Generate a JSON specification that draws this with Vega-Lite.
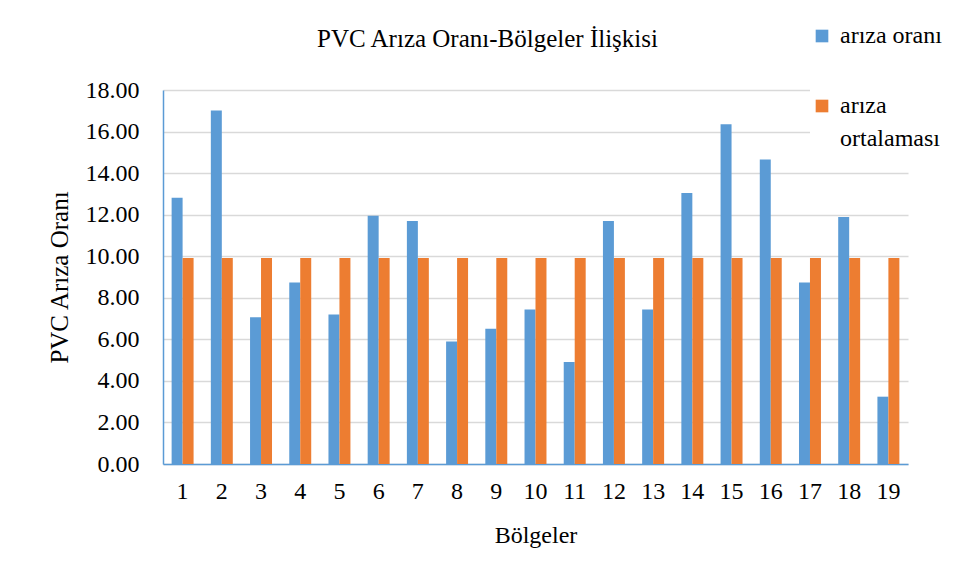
{
  "$schema": "https://vega.github.io/schema/vega-lite/v6.json",
  "width": 745,
  "height": 374,
  "autosize": {"type": "none"},
  "padding": {"left": 163, "top": 90, "right": 58, "bottom": 117},
  "background": "white",
  "config": {
    "font": "Liberation Serif",
    "view": {"stroke": null},
    "style": {"guide-label": {"lineHeight": 33}},
    "legend": {"labelFont": "serif"},
    "axis": {"labelFont": "Liberation Serif", "titleFont": "Liberation Serif", "labelColor": "#000", "titleColor": "#000", "titleFontWeight": "normal", "ticks": false, "domainColor": "#5B9BD5", "domainWidth": 1.5, "gridColor": "#D9D9D9", "gridWidth": 1.5}
  },
  "title": {"text": "PVC Arıza Oranı-Bölgeler İlişkisi", "font": "Liberation Serif", "fontSize": 25, "fontWeight": "normal", "color": "#000", "anchor": "middle", "frame": "group", "dx": -48, "offset": 36, "dy": 64},
  "data": {"values": [
    {"bolge": 1, "seri": "arıza oranı", "deger": 12.82},
    {"bolge": 2, "seri": "arıza oranı", "deger": 17.01},
    {"bolge": 3, "seri": "arıza oranı", "deger": 7.06},
    {"bolge": 4, "seri": "arıza oranı", "deger": 8.74},
    {"bolge": 5, "seri": "arıza oranı", "deger": 7.19},
    {"bolge": 6, "seri": "arıza oranı", "deger": 11.95},
    {"bolge": 7, "seri": "arıza oranı", "deger": 11.70},
    {"bolge": 8, "seri": "arıza oranı", "deger": 5.89},
    {"bolge": 9, "seri": "arıza oranı", "deger": 6.51},
    {"bolge": 10, "seri": "arıza oranı", "deger": 7.43},
    {"bolge": 11, "seri": "arıza oranı", "deger": 4.91},
    {"bolge": 12, "seri": "arıza oranı", "deger": 11.70},
    {"bolge": 13, "seri": "arıza oranı", "deger": 7.43},
    {"bolge": 14, "seri": "arıza oranı", "deger": 13.04},
    {"bolge": 15, "seri": "arıza oranı", "deger": 16.35},
    {"bolge": 16, "seri": "arıza oranı", "deger": 14.66},
    {"bolge": 17, "seri": "arıza oranı", "deger": 8.74},
    {"bolge": 18, "seri": "arıza oranı", "deger": 11.89},
    {"bolge": 19, "seri": "arıza oranı", "deger": 3.24},
    {"bolge": 1, "seri": "arıza ortalaması", "deger": 9.91},
    {"bolge": 2, "seri": "arıza ortalaması", "deger": 9.91},
    {"bolge": 3, "seri": "arıza ortalaması", "deger": 9.91},
    {"bolge": 4, "seri": "arıza ortalaması", "deger": 9.91},
    {"bolge": 5, "seri": "arıza ortalaması", "deger": 9.91},
    {"bolge": 6, "seri": "arıza ortalaması", "deger": 9.91},
    {"bolge": 7, "seri": "arıza ortalaması", "deger": 9.91},
    {"bolge": 8, "seri": "arıza ortalaması", "deger": 9.91},
    {"bolge": 9, "seri": "arıza ortalaması", "deger": 9.91},
    {"bolge": 10, "seri": "arıza ortalaması", "deger": 9.91},
    {"bolge": 11, "seri": "arıza ortalaması", "deger": 9.91},
    {"bolge": 12, "seri": "arıza ortalaması", "deger": 9.91},
    {"bolge": 13, "seri": "arıza ortalaması", "deger": 9.91},
    {"bolge": 14, "seri": "arıza ortalaması", "deger": 9.91},
    {"bolge": 15, "seri": "arıza ortalaması", "deger": 9.91},
    {"bolge": 16, "seri": "arıza ortalaması", "deger": 9.91},
    {"bolge": 17, "seri": "arıza ortalaması", "deger": 9.91},
    {"bolge": 18, "seri": "arıza ortalaması", "deger": 9.91},
    {"bolge": 19, "seri": "arıza ortalaması", "deger": 9.91}
  ]},
  "mark": {"type": "bar"},
  "encoding": {
    "x": {
      "field": "bolge", "type": "ordinal",
      "scale": {"paddingInner": 0.44, "paddingOuter": 0.22},
      "axis": {"title": "Bölgeler", "labelAngle": 0, "labelFontSize": 24, "titleFontSize": 24, "labelPadding": 15, "labelBaseline": "top", "grid": false, "titleY": 71, "titleBaseline": "middle"}
    },
    "xOffset": {"field": "seri", "type": "nominal", "scale": {"domain": ["arıza oranı", "arıza ortalaması"], "paddingInner": 0, "paddingOuter": 0}},
    "y": {
      "field": "deger", "type": "quantitative",
      "scale": {"domain": [0, 18], "nice": false},
      "axis": {"title": "PVC  Arıza Oranı", "values": [0, 2, 4, 6, 8, 10, 12, 14, 16, 18], "format": ".2f", "labelFontSize": 24, "titleFontSize": 25, "labelPadding": 24, "grid": true, "titleX": -104, "titleY": 187, "titleAngle": -90, "titleAlign": "center", "titleBaseline": "middle"}
    },
    "color": {
      "field": "seri", "type": "nominal",
      "scale": {"domain": ["arıza oranı", "arıza ortalaması"], "range": ["#5B9BD5", "#ED7D31"]},
      "legend": {"title": null, "orient": "none", "legendX": 647, "legendY": -66, "padding": 0, "fillColor": "white", "symbolType": "square", "symbolSize": 160, "symbolStrokeWidth": 0, "symbolOpacity": 1, "labelFont": "serif", "labelFontSize": 24, "labelColor": "#000", "labelLimit": 300, "labelOffset": 6, "rowPadding": 46, "labelExpr": "datum.label == 'arıza ortalaması' ? ['arıza', 'ortalaması'] : datum.label"}
    }
  }
}
